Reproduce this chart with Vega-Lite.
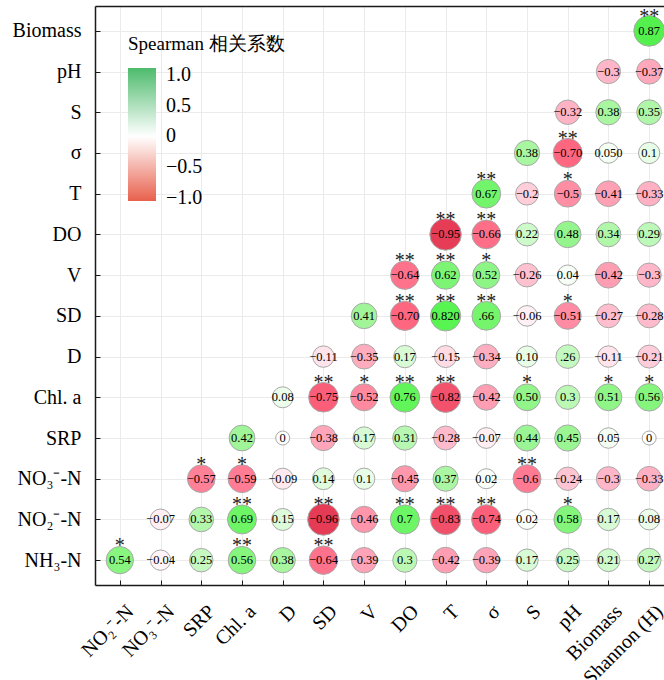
{
  "$schema": "https://vega.github.io/schema/vega-lite/v6.json",
  "autosize": {"type": "none"},
  "padding": {"left": 95, "top": 6, "right": 0, "bottom": 95},
  "width": 569,
  "height": 579,
  "background": "white",
  "config": {"view": {"stroke": null}, "font": "Liberation Serif"},
  "data": {"values": [
    {"y": "NH₃-N", "x": "NO₂⁻-N", "r": 0.54, "lab": "0.54", "sig": "*"},
    {"y": "NH₃-N", "x": "NO₃⁻-N", "r": -0.04, "lab": "−0.04", "sig": ""},
    {"y": "NH₃-N", "x": "SRP", "r": 0.25, "lab": "0.25", "sig": ""},
    {"y": "NH₃-N", "x": "Chl. a", "r": 0.56, "lab": "0.56", "sig": "**"},
    {"y": "NH₃-N", "x": "D", "r": 0.38, "lab": "0.38", "sig": ""},
    {"y": "NH₃-N", "x": "SD", "r": -0.64, "lab": "−0.64", "sig": "**"},
    {"y": "NH₃-N", "x": "V", "r": -0.39, "lab": "−0.39", "sig": ""},
    {"y": "NH₃-N", "x": "DO", "r": 0.3, "lab": "0.3", "sig": ""},
    {"y": "NH₃-N", "x": "T", "r": -0.42, "lab": "−0.42", "sig": ""},
    {"y": "NH₃-N", "x": "σ", "r": -0.39, "lab": "−0.39", "sig": ""},
    {"y": "NH₃-N", "x": "S", "r": 0.17, "lab": "0.17", "sig": ""},
    {"y": "NH₃-N", "x": "pH", "r": 0.25, "lab": "0.25", "sig": ""},
    {"y": "NH₃-N", "x": "Biomass", "r": 0.21, "lab": "0.21", "sig": ""},
    {"y": "NH₃-N", "x": "Shannon (H)", "r": 0.27, "lab": "0.27", "sig": ""},
    {"y": "NO₂⁻-N", "x": "NO₃⁻-N", "r": -0.07, "lab": "−0.07", "sig": ""},
    {"y": "NO₂⁻-N", "x": "SRP", "r": 0.33, "lab": "0.33", "sig": ""},
    {"y": "NO₂⁻-N", "x": "Chl. a", "r": 0.69, "lab": "0.69", "sig": "**"},
    {"y": "NO₂⁻-N", "x": "D", "r": 0.15, "lab": "0.15", "sig": ""},
    {"y": "NO₂⁻-N", "x": "SD", "r": -0.96, "lab": "−0.96", "sig": "**"},
    {"y": "NO₂⁻-N", "x": "V", "r": -0.46, "lab": "−0.46", "sig": ""},
    {"y": "NO₂⁻-N", "x": "DO", "r": 0.7, "lab": "0.7", "sig": "**"},
    {"y": "NO₂⁻-N", "x": "T", "r": -0.83, "lab": "−0.83", "sig": "**"},
    {"y": "NO₂⁻-N", "x": "σ", "r": -0.74, "lab": "−0.74", "sig": "**"},
    {"y": "NO₂⁻-N", "x": "S", "r": 0.02, "lab": "0.02", "sig": ""},
    {"y": "NO₂⁻-N", "x": "pH", "r": 0.58, "lab": "0.58", "sig": "*"},
    {"y": "NO₂⁻-N", "x": "Biomass", "r": 0.17, "lab": "0.17", "sig": ""},
    {"y": "NO₂⁻-N", "x": "Shannon (H)", "r": 0.08, "lab": "0.08", "sig": ""},
    {"y": "NO₃⁻-N", "x": "SRP", "r": -0.57, "lab": "−0.57", "sig": "*"},
    {"y": "NO₃⁻-N", "x": "Chl. a", "r": -0.59, "lab": "−0.59", "sig": "*"},
    {"y": "NO₃⁻-N", "x": "D", "r": -0.09, "lab": "−0.09", "sig": ""},
    {"y": "NO₃⁻-N", "x": "SD", "r": 0.14, "lab": "0.14", "sig": ""},
    {"y": "NO₃⁻-N", "x": "V", "r": 0.1, "lab": "0.1", "sig": ""},
    {"y": "NO₃⁻-N", "x": "DO", "r": -0.45, "lab": "−0.45", "sig": ""},
    {"y": "NO₃⁻-N", "x": "T", "r": 0.37, "lab": "0.37", "sig": ""},
    {"y": "NO₃⁻-N", "x": "σ", "r": 0.02, "lab": "0.02", "sig": ""},
    {"y": "NO₃⁻-N", "x": "S", "r": -0.6, "lab": "−0.6", "sig": "**"},
    {"y": "NO₃⁻-N", "x": "pH", "r": -0.24, "lab": "−0.24", "sig": ""},
    {"y": "NO₃⁻-N", "x": "Biomass", "r": -0.3, "lab": "−0.3", "sig": ""},
    {"y": "NO₃⁻-N", "x": "Shannon (H)", "r": -0.33, "lab": "−0.33", "sig": ""},
    {"y": "SRP", "x": "Chl. a", "r": 0.42, "lab": "0.42", "sig": ""},
    {"y": "SRP", "x": "D", "r": 0, "lab": "0", "sig": ""},
    {"y": "SRP", "x": "SD", "r": -0.38, "lab": "−0.38", "sig": ""},
    {"y": "SRP", "x": "V", "r": 0.17, "lab": "0.17", "sig": ""},
    {"y": "SRP", "x": "DO", "r": 0.31, "lab": "0.31", "sig": ""},
    {"y": "SRP", "x": "T", "r": -0.28, "lab": "−0.28", "sig": ""},
    {"y": "SRP", "x": "σ", "r": -0.07, "lab": "−0.07", "sig": ""},
    {"y": "SRP", "x": "S", "r": 0.44, "lab": "0.44", "sig": ""},
    {"y": "SRP", "x": "pH", "r": 0.45, "lab": "0.45", "sig": ""},
    {"y": "SRP", "x": "Biomass", "r": 0.05, "lab": "0.05", "sig": ""},
    {"y": "SRP", "x": "Shannon (H)", "r": 0, "lab": "0", "sig": ""},
    {"y": "Chl. a", "x": "D", "r": 0.08, "lab": "0.08", "sig": ""},
    {"y": "Chl. a", "x": "SD", "r": -0.75, "lab": "−0.75", "sig": "**"},
    {"y": "Chl. a", "x": "V", "r": -0.52, "lab": "−0.52", "sig": "*"},
    {"y": "Chl. a", "x": "DO", "r": 0.76, "lab": "0.76", "sig": "**"},
    {"y": "Chl. a", "x": "T", "r": -0.82, "lab": "−0.82", "sig": "**"},
    {"y": "Chl. a", "x": "σ", "r": -0.42, "lab": "−0.42", "sig": ""},
    {"y": "Chl. a", "x": "S", "r": 0.5, "lab": "0.50", "sig": "*"},
    {"y": "Chl. a", "x": "pH", "r": 0.3, "lab": "0.3", "sig": ""},
    {"y": "Chl. a", "x": "Biomass", "r": 0.51, "lab": "0.51", "sig": "*"},
    {"y": "Chl. a", "x": "Shannon (H)", "r": 0.56, "lab": "0.56", "sig": "*"},
    {"y": "D", "x": "SD", "r": -0.11, "lab": "−0.11", "sig": ""},
    {"y": "D", "x": "V", "r": -0.35, "lab": "−0.35", "sig": ""},
    {"y": "D", "x": "DO", "r": 0.17, "lab": "0.17", "sig": ""},
    {"y": "D", "x": "T", "r": -0.15, "lab": "−0.15", "sig": ""},
    {"y": "D", "x": "σ", "r": -0.34, "lab": "−0.34", "sig": ""},
    {"y": "D", "x": "S", "r": 0.1, "lab": "0.10", "sig": ""},
    {"y": "D", "x": "pH", "r": 0.26, "lab": ".26", "sig": ""},
    {"y": "D", "x": "Biomass", "r": -0.11, "lab": "−0.11", "sig": ""},
    {"y": "D", "x": "Shannon (H)", "r": -0.21, "lab": "−0.21", "sig": ""},
    {"y": "SD", "x": "V", "r": 0.41, "lab": "0.41", "sig": ""},
    {"y": "SD", "x": "DO", "r": -0.7, "lab": "−0.70", "sig": "**"},
    {"y": "SD", "x": "T", "r": 0.82, "lab": "0.820", "sig": "**"},
    {"y": "SD", "x": "σ", "r": 0.66, "lab": ".66", "sig": "**"},
    {"y": "SD", "x": "S", "r": -0.06, "lab": "−0.06", "sig": ""},
    {"y": "SD", "x": "pH", "r": -0.51, "lab": "−0.51", "sig": "*"},
    {"y": "SD", "x": "Biomass", "r": -0.27, "lab": "−0.27", "sig": ""},
    {"y": "SD", "x": "Shannon (H)", "r": -0.28, "lab": "−0.28", "sig": ""},
    {"y": "V", "x": "DO", "r": -0.64, "lab": "−0.64", "sig": "**"},
    {"y": "V", "x": "T", "r": 0.62, "lab": "0.62", "sig": "**"},
    {"y": "V", "x": "σ", "r": 0.52, "lab": "0.52", "sig": "*"},
    {"y": "V", "x": "S", "r": -0.26, "lab": "−0.26", "sig": ""},
    {"y": "V", "x": "pH", "r": 0.04, "lab": "0.04", "sig": ""},
    {"y": "V", "x": "Biomass", "r": -0.42, "lab": "−0.42", "sig": ""},
    {"y": "V", "x": "Shannon (H)", "r": -0.3, "lab": "−0.3", "sig": ""},
    {"y": "DO", "x": "T", "r": -0.95, "lab": "−0.95", "sig": "**"},
    {"y": "DO", "x": "σ", "r": -0.66, "lab": "−0.66", "sig": "**"},
    {"y": "DO", "x": "S", "r": 0.22, "lab": "0.22", "sig": ""},
    {"y": "DO", "x": "pH", "r": 0.48, "lab": "0.48", "sig": ""},
    {"y": "DO", "x": "Biomass", "r": 0.34, "lab": "0.34", "sig": ""},
    {"y": "DO", "x": "Shannon (H)", "r": 0.29, "lab": "0.29", "sig": ""},
    {"y": "T", "x": "σ", "r": 0.67, "lab": "0.67", "sig": "**"},
    {"y": "T", "x": "S", "r": -0.2, "lab": "−0.2", "sig": ""},
    {"y": "T", "x": "pH", "r": -0.5, "lab": "−0.5", "sig": "*"},
    {"y": "T", "x": "Biomass", "r": -0.41, "lab": "−0.41", "sig": ""},
    {"y": "T", "x": "Shannon (H)", "r": -0.33, "lab": "−0.33", "sig": ""},
    {"y": "σ", "x": "S", "r": 0.38, "lab": "0.38", "sig": ""},
    {"y": "σ", "x": "pH", "r": -0.7, "lab": "−0.70", "sig": "**"},
    {"y": "σ", "x": "Biomass", "r": 0.05, "lab": "0.050", "sig": ""},
    {"y": "σ", "x": "Shannon (H)", "r": 0.1, "lab": "0.1", "sig": ""},
    {"y": "S", "x": "pH", "r": -0.32, "lab": "−0.32", "sig": ""},
    {"y": "S", "x": "Biomass", "r": 0.38, "lab": "0.38", "sig": ""},
    {"y": "S", "x": "Shannon (H)", "r": 0.35, "lab": "0.35", "sig": ""},
    {"y": "pH", "x": "Biomass", "r": -0.3, "lab": "−0.3", "sig": ""},
    {"y": "pH", "x": "Shannon (H)", "r": -0.37, "lab": "−0.37", "sig": ""},
    {"y": "Biomass", "x": "Shannon (H)", "r": 0.87, "lab": "0.87", "sig": "**"}
  ]},
  "encoding": {
    "x": {"field": "x", "type": "nominal",
      "scale": {"type": "point", "domain": ["NO₂⁻-N", "NO₃⁻-N", "SRP", "Chl. a", "D", "SD", "V", "DO", "T", "σ", "S", "pH", "Biomass", "Shannon (H)"], "padding": 0.61, "range": [0, 579]},
      "axis": null},
    "y": {"field": "y", "type": "nominal",
      "scale": {"type": "point", "domain": ["Biomass", "pH", "S", "σ", "T", "DO", "V", "SD", "D", "Chl. a", "SRP", "NO₃⁻-N", "NO₂⁻-N", "NH₃-N"], "padding": 0.61},
      "axis": {"title": null, "grid": true, "gridColor": "#ebebeb", "gridWidth": 1, "domainColor": "#1a1a1a", "domainWidth": 1.5, "tickColor": "#1a1a1a", "tickSize": -5, "tickWidth": 1, "labelFont": "Liberation Serif", "labelFontSize": 20, "labelColor": "#000", "labelPadding": 19}}
  },
  "layer": [
    {
      "mark": {"type": "circle", "opacity": 1, "stroke": "#a8a8a8", "strokeWidth": 1},
      "encoding": {
        "x": {"field": "x", "type": "nominal",
          "scale": {"type": "point", "domain": ["NO₂⁻-N", "NO₃⁻-N", "SRP", "Chl. a", "D", "SD", "V", "DO", "T", "σ", "S", "pH", "Biomass", "Shannon (H)"], "padding": 0.61, "range": [0, 579]},
          "axis": {"orient": "bottom", "title": null, "grid": true, "gridColor": "#ebebeb", "gridWidth": 1, "domainColor": "#1a1a1a", "domainWidth": 1.5, "tickColor": "#1a1a1a", "tickSize": -5, "tickWidth": 1, "labelAngle": -45, "labelAlign": "right", "labelBaseline": "top", "labelFont": "Liberation Serif", "labelFontSize": 20, "labelColor": "#000", "labelPadding": 21, "labelOffset": 3}},
        "color": {"field": "r", "type": "quantitative",
          "scale": {"type": "linear", "domain": [-1, -0.7, -0.3, 0, 0.4, 0.8, 1], "range": ["#e2344e", "#ff6680", "#ffb6c8", "#ffffff", "#a3f59b", "#5af552", "#4ae843"], "interpolate": "rgb"},
          "legend": null},
        "size": {"field": "r", "type": "quantitative",
          "scale": {"type": "linear", "domain": [-1, -0.6, -0.02, 0, 0.02, 0.6, 1], "range": [1024, 784, 400, 196, 400, 784, 1024]},
          "legend": null}
      }
    },
    {
      "mark": {"type": "text", "font": "Liberation Serif", "fontSize": 12.5, "baseline": "middle", "align": "center", "color": "#000"},
      "encoding": {"text": {"field": "lab", "type": "nominal"}}
    },
    {
      "transform": [{"filter": "datum.sig != ''"}],
      "mark": {"type": "text", "font": "Liberation Serif", "fontSize": 20, "baseline": "alphabetic", "align": "center", "dy": -8, "color": "#222"},
      "encoding": {"text": {"field": "sig", "type": "nominal"}}
    },
    {
      "mark": {"type": "circle", "opacity": 0},
      "encoding": {
        "x": {"field": "x", "type": "nominal",
          "scale": {"type": "point", "domain": ["NO₂⁻-N", "NO₃⁻-N", "SRP", "Chl. a", "D", "SD", "V", "DO", "T", "σ", "S", "pH", "Biomass", "Shannon (H)"], "padding": 0.61, "range": [0, 579]},
          "axis": {"orient": "top", "title": null, "labels": false, "ticks": false, "grid": false, "domain": true, "domainColor": "#1a1a1a", "domainWidth": 1.5}},
        "color": {"field": "r", "type": "quantitative",
          "scale": {"type": "linear", "domain": [-1.05, 0, 1.11], "range": ["#e8604c", "#ffffff", "#4dbb6c"], "interpolate": "rgb"},
          "legend": {"type": "gradient", "orient": "none", "legendX": 33, "legendY": 29, "direction": "vertical", "padding": 0,
            "title": "Spearman 相关系数", "titleFont": "Liberation Serif", "titleFontSize": 19, "titleFontWeight": "normal", "titleColor": "#000", "titlePadding": 14, "titleLimit": 300,
            "gradientLength": 133, "gradientThickness": 28, "gradientStrokeWidth": 0,
            "values": [-1, -0.5, 0, 0.5, 1], "labelExpr": "datum.value == 0 ? '0' : format(datum.value, '.1f')",
            "labelFont": "Liberation Serif", "labelFontSize": 20, "labelColor": "#000", "labelOffset": 10, "labelOverlap": false}}
      }
    }
  ],
  "resolve": {"scale": {"color": "independent"}, "axis": {"x": "independent"}}
}
